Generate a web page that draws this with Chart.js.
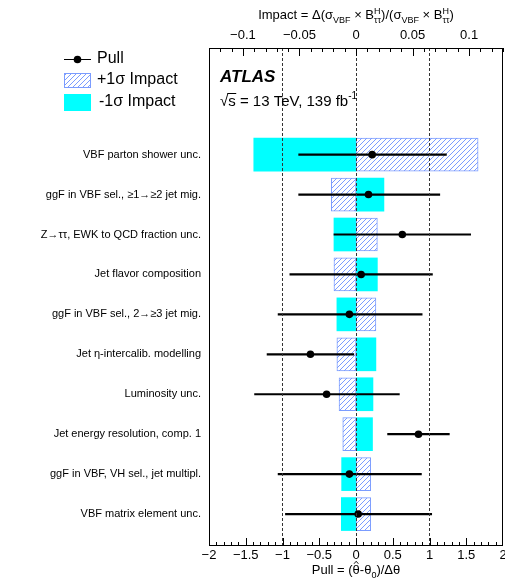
<!DOCTYPE html>
<html>
<head>
<meta charset="utf-8">
<script src="https://cdn.jsdelivr.net/npm/chart.js@4.4.0/dist/chart.umd.min.js"></script>
<style>
body { margin: 0; background: #fff; }
</style>
</head>
<body>
<canvas id="myChart" width="505" height="578"></canvas>
<script>
// rows, top to bottom
var categories = [
	"VBF parton shower unc.",
	"ggF in VBF sel., \u22651\u2192\u22652 jet mig.",
	"Z\u2192\u03c4\u03c4, EWK to QCD fraction unc.",
	"Jet flavor composition",
	"ggF in VBF sel., 2\u2192\u22653 jet mig.",
	"Jet \u03b7-intercalib. modelling",
	"Luminosity unc.",
	"Jet energy resolution, comp. 1",
	"ggF in VBF, VH sel., jet multipl.",
	"VBF matrix element unc."
];
var pull     = [0.22, 0.17, 0.63, 0.07, -0.09, -0.62, -0.40, 0.85, -0.09, 0.03];
var pullLow  = [-0.78, -0.78, -0.30, -0.90, -1.06, -1.21, -1.38, 0.43, -1.06, -0.96];
var pullHigh = [1.23, 1.14, 1.56, 1.04, 0.90, -0.03, 0.59, 1.27, 0.89, 1.03];
var impactUp   = [0.108, -0.0218, 0.0189, -0.0195, 0.0176, -0.0169, -0.0150, -0.0117, 0.0130, 0.0130];
var impactDown = [-0.0904, 0.0247, -0.0195, 0.0189, -0.0169, 0.0176, 0.0150, 0.0146, -0.0127, -0.0130];
var pullTicks = [-2, -1.5, -1, -0.5, 0, 0.5, 1, 1.5, 2];
var impactTicks = [-0.1, -0.05, 0, 0.05, 0.1];

var FONT = '"Liberation Sans", Arial, Helvetica, sans-serif';
var hatchColor = '#7b9cff';
var cyan = '#00ffff';

Chart.defaults.font.family = FONT;
Chart.defaults.color = '#000';

function makeHatch(color) {
	var c = document.createElement('canvas');
	c.width = 5; c.height = 5;
	var g = c.getContext('2d');
	g.fillStyle = '#fff';
	g.fillRect(0, 0, 5, 5);
	g.strokeStyle = color;
	g.lineWidth = 1;
	g.beginPath();
	g.moveTo(0, 5); g.lineTo(5, 0);
	g.moveTo(-1, 1); g.lineTo(1, -1);
	g.moveTo(4, 6); g.lineTo(6, 4);
	g.stroke();
	return g.createPattern(c, 'repeat');
}
var hatch = makeHatch(hatchColor);

function fmt(v) {
	return (v < 0 ? '\u2212' : '') + Math.abs(v);
}

function font(s, style) {
	return (style ? style + ' ' : '') + s + 'px ' + FONT;
}

// text with sub/superscripts (and a hat), centred on cx
function drawRich(ctx, parts, cx, base, size) {
	var small = Math.round(size * 0.72);
	function w(t, s) { ctx.font = font(s); return ctx.measureText(t).width; }
	var total = 0;
	parts.forEach(function (p) {
		p.w = p.t !== undefined ? w(p.t, size) : Math.max(p.sup ? w(p.sup, small) : 0, p.sub ? w(p.sub, small) : 0);
		total += p.w;
	});
	var x = cx - total / 2;
	ctx.textAlign = 'left';
	ctx.textBaseline = 'alphabetic';
	parts.forEach(function (p) {
		if (p.t !== undefined) {
			ctx.font = font(size);
			ctx.fillText(p.t, x, base);
			if (p.hat) {
				var top = base - size * 0.98;
				ctx.beginPath();
				ctx.moveTo(x + p.w * 0.2, top + 2.5);
				ctx.lineTo(x + p.w * 0.5, top);
				ctx.lineTo(x + p.w * 0.8, top + 2.5);
				ctx.stroke();
			}
		} else {
			ctx.font = font(small);
			if (p.sup) ctx.fillText(p.sup, x, base - size * 0.42);
			if (p.sub) ctx.fillText(p.sub, x, base + size * 0.3);
		}
		x += p.w;
	});
}

var decor = {
	id: 'decor',
	afterDraw: function (chart) {
		var ctx = chart.ctx;
		var a = chart.chartArea;
		var xs = chart.scales.x, xt = chart.scales.x2;
		ctx.save();
		ctx.strokeStyle = '#000';
		ctx.lineWidth = 1;

		// inward ticks
		ctx.beginPath();
		for (var k = -19; k <= 19; k++) {
			var px = Math.round(xs.getPixelForValue(k / 10)) + 0.5;
			var len = k % 5 === 0 ? 8 : 4;
			ctx.moveTo(px, a.bottom); ctx.lineTo(px, a.bottom - len);
		}
		for (k = -13; k <= 13; k++) {
			px = Math.round(xt.getPixelForValue(k / 100)) + 0.5;
			len = k % 5 === 0 ? 8 : 4;
			ctx.moveTo(px, a.top); ctx.lineTo(px, a.top + len);
		}
		ctx.stroke();

		// frame
		ctx.strokeRect(Math.round(a.left) + 0.5, Math.round(a.top) + 0.5,
			Math.round(a.right - a.left) - 1, Math.round(a.bottom - a.top) - 1);

		// axis titles
		ctx.fillStyle = '#000';
		var cx = (a.left + a.right) / 2;
		drawRich(ctx, [
			{t: 'Impact = \u0394(\u03c3'}, {sub: 'VBF'}, {t: ' \u00d7 B'}, {sup: 'H', sub: '\u03c4\u03c4'},
			{t: ')/(\u03c3'}, {sub: 'VBF'}, {t: ' \u00d7 B'}, {sup: 'H', sub: '\u03c4\u03c4'}, {t: ')'}
		], cx, 19, 13);
		ctx.lineWidth = 0.9;
		drawRich(ctx, [
			{t: 'Pull = ('}, {t: '\u03b8', hat: true}, {t: '-\u03b8'}, {sub: '0'}, {t: ')/\u0394\u03b8'}
		], cx, 574, 13);
		ctx.lineWidth = 1;

		// ATLAS label
		ctx.textAlign = 'left';
		ctx.textBaseline = 'alphabetic';
		ctx.font = font(17, 'italic bold');
		ctx.fillText('ATLAS', 220, 82);
		ctx.font = font(15);
		var x0 = 220, y0 = 106;
		var wr = ctx.measureText('\u221a').width;
		var ws = ctx.measureText('s').width;
		var rest = 's = 13 TeV, 139 fb';
		ctx.fillText('\u221a' + rest, x0, y0);
		ctx.beginPath();
		ctx.moveTo(x0 + wr - 1, y0 - 12.5);
		ctx.lineTo(x0 + wr + ws + 0.5, y0 - 12.5);
		ctx.stroke();
		var wt = ctx.measureText('\u221a' + rest).width;
		ctx.font = font(10);
		ctx.fillText('-1', x0 + wt, y0 - 7);

		// legend
		ctx.font = font(16);
		ctx.beginPath();
		ctx.moveTo(64, 59.5); ctx.lineTo(91, 59.5);
		ctx.stroke();
		ctx.beginPath();
		ctx.arc(77.5, 59.5, 3.8, 0, Math.PI * 2);
		ctx.fill();
		ctx.fillText('Pull', 97, 63);

		ctx.fillStyle = hatch;
		ctx.fillRect(64, 73, 27, 15);
		ctx.strokeStyle = hatchColor;
		ctx.strokeRect(64.5, 73.5, 26, 14);
		ctx.fillStyle = '#000';
		ctx.fillText('+1\u03c3 Impact', 97, 84);

		ctx.fillStyle = cyan;
		ctx.fillRect(64, 94, 27, 17);
		ctx.fillStyle = '#000';
		ctx.fillText('-1\u03c3 Impact', 99, 106);
		ctx.restore();
	}
};

var ctx = document.getElementById('myChart').getContext('2d');
var chart = new Chart(ctx, {
	type: 'bar',
	data: {
		datasets: [{
			type: 'scatter',
			label: 'Pull',
			data: pull.map(function (v, i) { return {x: v, y: i}; }),
			xAxisID: 'x',
			yAxisID: 'y',
			pointRadius: 3.8,
			pointBackgroundColor: '#000',
			pointBorderColor: '#000',
			pointBorderWidth: 0
		}, {
			label: 'Pull error',
			data: pull.map(function (v, i) { return {x: [pullLow[i], pullHigh[i]], y: i}; }),
			xAxisID: 'x',
			yAxisID: 'y',
			backgroundColor: '#000',
			barThickness: 1.5,
			grouped: false
		}, {
			label: '+1\u03c3 Impact',
			data: impactUp.map(function (v, i) { return {x: [0, v], y: i}; }),
			xAxisID: 'x2',
			yAxisID: 'y',
			backgroundColor: hatch,
			borderColor: hatchColor,
			borderWidth: 1,
			borderSkipped: false,
			barThickness: 33,
			grouped: false
		}, {
			label: '-1\u03c3 Impact',
			data: impactDown.map(function (v, i) { return {x: [0, v], y: i}; }),
			xAxisID: 'x2',
			yAxisID: 'y',
			backgroundColor: cyan,
			barThickness: 33,
			grouped: false
		}]
	},
	options: {
		indexAxis: 'y',
		responsive: false,
		animation: false,
		layout: { autoPadding: false, padding: { left: 0, right: 2, top: 0, bottom: 0 } },
		plugins: { legend: { display: false }, tooltip: { enabled: false } },
		scales: {
			x: {
				type: 'linear',
				position: 'bottom',
				min: -2,
				max: 2,
				afterBuildTicks: function (s) { s.ticks = pullTicks.map(function (v) { return {value: v}; }); },
				ticks: { callback: fmt, font: { size: 13 }, padding: 2, maxRotation: 0, autoSkip: false },
				grid: {
					z: 1,
					drawTicks: false,
					lineWidth: 1,
					color: function (c) {
						var v = c.tick ? c.tick.value : null;
						return (v === -1 || v === 0 || v === 1) ? '#333' : 'rgba(0,0,0,0)';
					}
				},
				border: { display: false, dash: [3, 2] },
				afterFit: function (s) { s.height = 32; s.paddingLeft = 0; s.paddingRight = 0; }
			},
			x2: {
				type: 'linear',
				position: 'top',
				min: -0.13,
				max: 0.13,
				afterBuildTicks: function (s) { s.ticks = impactTicks.map(function (v) { return {value: v}; }); },
				ticks: { callback: fmt, font: { size: 13 }, padding: 5, maxRotation: 0, autoSkip: false },
				grid: { display: false, drawTicks: false },
				border: { display: false },
				afterFit: function (s) { s.height = 48; s.paddingLeft = 0; s.paddingRight = 0; }
			},
			y: {
				type: 'linear',
				reverse: true,
				offset: false,
				min: -2.67,
				max: 9.8,
				afterBuildTicks: function (s) { s.ticks = categories.map(function (c, i) { return {value: i}; }); },
				ticks: {
					callback: function (v) { return categories[v]; },
					font: { size: 11 },
					padding: 8,
					autoSkip: false
				},
				grid: { display: false, drawTicks: false, offset: false },
				border: { display: false },
				afterFit: function (s) { s.width = 209; s.paddingTop = 0; s.paddingBottom = 0; }
			}
		}
	},
	plugins: [decor]
});
</script>
</body>
</html>
